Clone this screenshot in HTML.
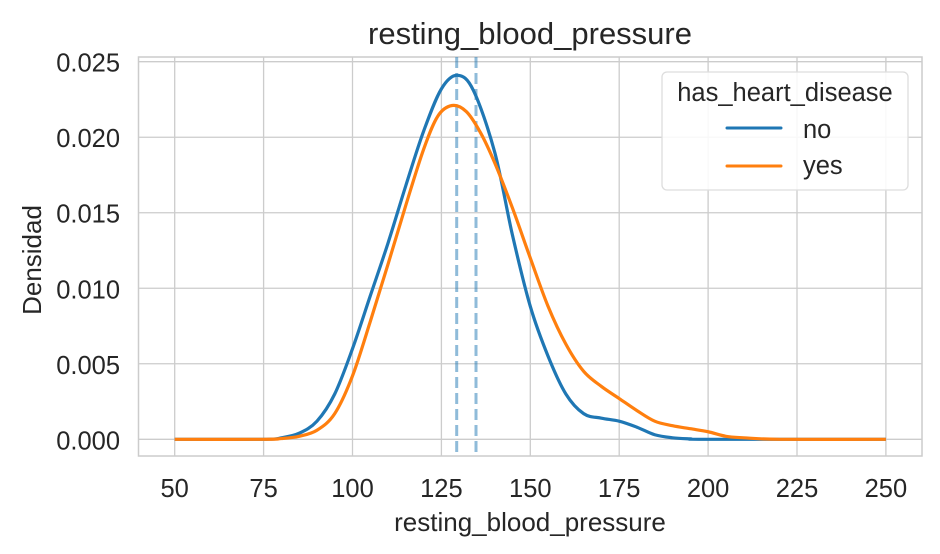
<!DOCTYPE html>
<html><head><style>body{margin:0;background:#fff}svg{display:block}text{font-family:"Liberation Sans",Arial,sans-serif;fill:#262626}</style></head><body>
<svg id="s" width="940" height="554" viewBox="0 0 940 554">
<rect width="940" height="554" fill="#fff"/>
<g id="grid" stroke="#cccccc" stroke-width="1.3"></g>
<rect x="138.5" y="57" width="783.5" height="399" fill="none" stroke="#cccccc" stroke-width="1.5"/>
<line x1="456.7" y1="57" x2="456.7" y2="456" stroke="#1f77b4" stroke-opacity="0.5" stroke-width="3" stroke-dasharray="11,5"/>
<line x1="476" y1="57" x2="476" y2="456" stroke="#1f77b4" stroke-opacity="0.5" stroke-width="3" stroke-dasharray="11,5"/>
<path id="pb" fill="none" stroke="#1f77b4" stroke-width="3.2"/>
<path id="po" fill="none" stroke="#ff7f0e" stroke-width="3.2"/>
<g id="lab" font-size="25.5"></g>
<text x="530" y="44" font-size="31" text-anchor="middle">resting_blood_pressure</text>
<text x="530" y="531" font-size="26" text-anchor="middle">resting_blood_pressure</text>
<text transform="translate(41,260) rotate(-90)" font-size="26" text-anchor="middle">Densidad</text>
<rect x="662" y="72" width="246" height="118" rx="5" fill="#fff" fill-opacity="0.85" stroke="#dddddd" stroke-width="1.3"/>
<text x="785" y="101" font-size="25.5" text-anchor="middle">has_heart_disease</text>
<line x1="727" y1="128" x2="781" y2="128" stroke="#1f77b4" stroke-width="3" stroke-linecap="round"/>
<text x="803" y="138" font-size="25.5">no</text>
<line x1="727" y1="166" x2="781" y2="166" stroke="#ff7f0e" stroke-width="3" stroke-linecap="round"/>
<text x="803" y="174" font-size="25.5">yes</text>
</svg>
<script>
const X=v=>174.7+(v-50)*3.556, Y=d=>439.3-d*15104;
const g=document.getElementById('grid'),l=document.getElementById('lab');
let gs='',ls='';
for(let v=50;v<=250;v+=25){const x=X(v);gs+=`<line x1="${x}" y1="57" x2="${x}" y2="456"/>`;ls+=`<text x="${x}" y="497" text-anchor="middle">${v}</text>`;}
for(let i=0;i<=5;i++){const d=i*0.005,y=Y(d);gs+=`<line x1="138.5" y1="${y}" x2="922" y2="${y}"/>`;ls+=`<text x="120" y="${y+10}" text-anchor="end">${d.toFixed(3)}</text>`;}
g.innerHTML=gs;l.innerHTML=ls;
const B=[[50,0],[75,0],[80,.0001],[85,.0004],[90,.0012],[95,.003],[100,.006],[105,.0095],[110,.013],[115,.0168],[120,.0204],[125,.0232],[129.5,.0241],[134,.0231],[140,.019],[145,.0135],[150,.0088],[155,.0055],[160,.003],[165,.0017],[170,.0014],[175,.0012],[180,.0008],[185,.0003],[190,.0001],[195,.00003],[200,0],[250,0]];
const O=[[50,0],[75,0],[80,.00005],[85,.0002],[90,.0006],[95,.0017],[100,.0042],[105,.0078],[110,.0116],[115,.0155],[120,.0192],[124,.0214],[128,.0221],[132,.0217],[136,.0203],[140,.0183],[145,.0153],[150,.012],[155,.0088],[160,.0063],[165,.0045],[170,.0035],[175,.0027],[180,.0019],[185,.0012],[190,.0009],[195,.0007],[200,.0005],[205,.0002],[210,.0001],[220,0],[250,0]];
function path(P){const p=P.map(([v,d])=>[X(v),Y(d)]);let s=`M${p[0][0]},${p[0][1]}`;
for(let i=0;i<p.length-1;i++){const a=p[i-1]||p[i],b=p[i],c=p[i+1],e=p[i+2]||c;
s+=`C${b[0]+(c[0]-a[0])/6},${b[1]+(c[1]-a[1])/6} ${c[0]-(e[0]-b[0])/6},${c[1]-(e[1]-b[1])/6} ${c[0]},${c[1]}`;}return s;}
document.getElementById('pb').setAttribute('d',path(B));
document.getElementById('po').setAttribute('d',path(O));
</script>
</body></html>
